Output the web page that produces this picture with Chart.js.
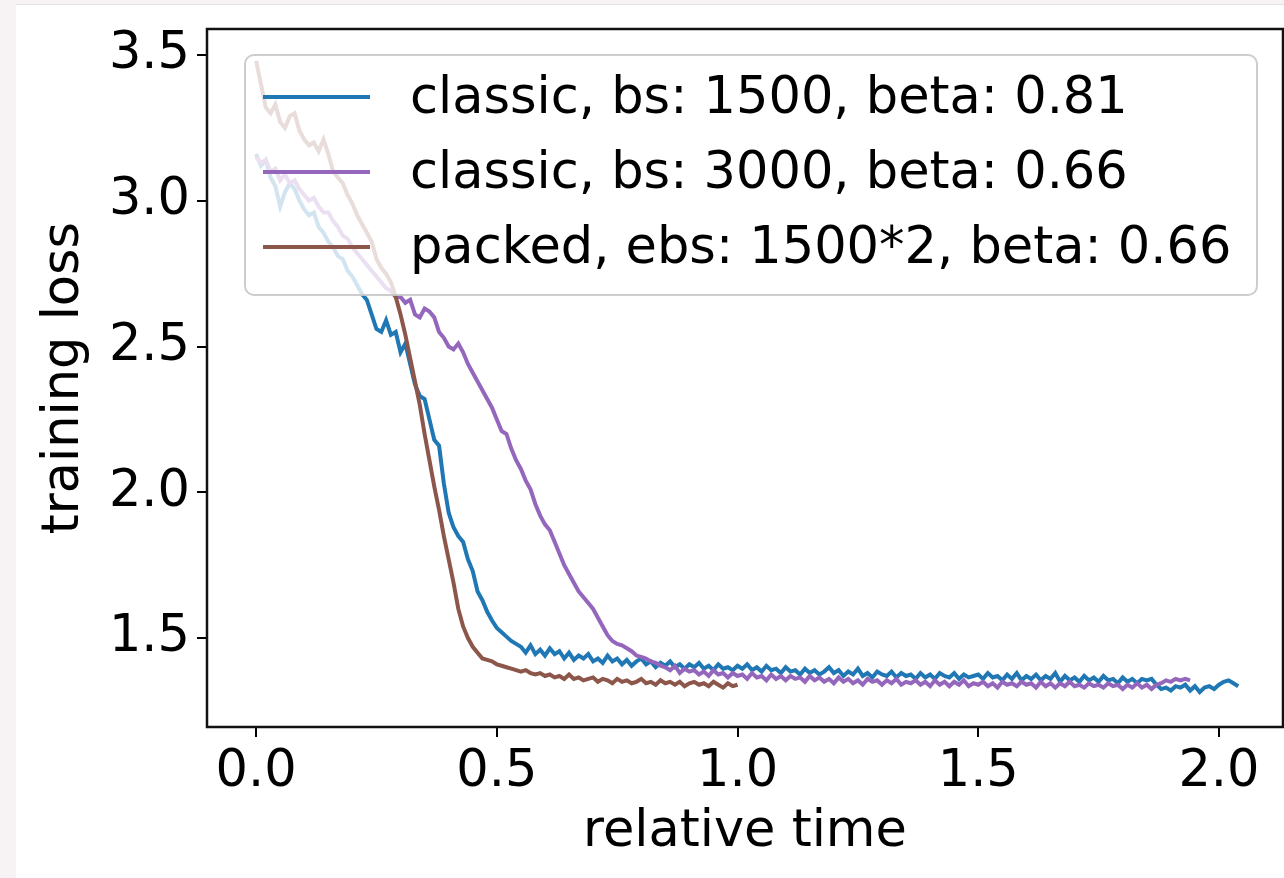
<!DOCTYPE html>
<html lang="en">
<head>
<meta charset="UTF-8" />
<title>Training loss vs relative time</title>
<script src="https://cdn.jsdelivr.net/npm/chart.js"></script>
<style>
  html, body { margin: 0; padding: 0; }
  body { background: #f7f3f4; width: 1284px; height: 878px; overflow: hidden; position: relative; }
  #wrap { position: absolute; left: 16px; top: 4px; width: 1268px; height: 873px; background: #fff; border-top: 1px solid #e4e2e2; }
  canvas { display: block; }
</style>
</head>
<body>
<div id="wrap"><canvas id="lossChart"></canvas></div>
<script>
// every run is sampled every 0.01 of relative time, starting at 0
const timeStep = 0.01;

const seriesLabels = [
  'classic, bs: 1500, beta: 0.81',
  'classic, bs: 3000, beta: 0.66',
  'packed, ebs: 1500*2, beta: 0.66'
];
const seriesColors = ['#1f77b4', '#9467bd', '#8c564b'];

// classic, bs 1500 (0.00 .. 2.04)
const lossBs1500 = [
  3.16, 3.12, 3.14, 3.08, 3.05, 2.98, 3.03, 3.06, 3.04, 3.00,
  2.97, 2.95, 2.96, 2.91, 2.89, 2.86, 2.84, 2.81, 2.80, 2.76,
  2.74, 2.71, 2.68, 2.66, 2.61, 2.56, 2.55, 2.59, 2.54, 2.55,
  2.48, 2.51, 2.44, 2.37, 2.33, 2.32, 2.25, 2.18, 2.16, 2.03,
  1.93, 1.88, 1.85, 1.83, 1.77, 1.73, 1.66, 1.63, 1.59, 1.56,
  1.535, 1.52, 1.505, 1.49, 1.48, 1.47, 1.45, 1.475, 1.445, 1.46,
  1.44, 1.465, 1.445, 1.455, 1.43, 1.45, 1.425, 1.44, 1.43, 1.445,
  1.42, 1.43, 1.415, 1.44, 1.42, 1.43, 1.41, 1.425, 1.405, 1.42,
  1.43, 1.41, 1.42, 1.40, 1.415, 1.405, 1.42, 1.40, 1.41, 1.395,
  1.41, 1.40, 1.415, 1.395, 1.405, 1.39, 1.41, 1.395, 1.40, 1.39,
  1.405, 1.395, 1.41, 1.39, 1.40, 1.385, 1.405, 1.39, 1.395, 1.38,
  1.40, 1.385, 1.39, 1.375, 1.395, 1.38, 1.39, 1.375, 1.385, 1.40,
  1.38, 1.39, 1.37, 1.385, 1.375, 1.395, 1.37, 1.38, 1.365, 1.385,
  1.375, 1.37, 1.385, 1.365, 1.38, 1.37, 1.375, 1.36, 1.38, 1.365,
  1.375, 1.36, 1.38, 1.37, 1.365, 1.38, 1.36, 1.375, 1.365, 1.37,
  1.375, 1.36, 1.38, 1.365, 1.37, 1.355, 1.375, 1.36, 1.38, 1.355,
  1.37, 1.36, 1.375, 1.355, 1.37, 1.36, 1.38, 1.35, 1.37, 1.355,
  1.365, 1.35, 1.37, 1.355, 1.365, 1.35, 1.37, 1.355, 1.36, 1.345,
  1.365, 1.35, 1.36, 1.345, 1.36, 1.355, 1.36, 1.34, 1.325, 1.33,
  1.32, 1.335, 1.33, 1.34, 1.32, 1.335, 1.315, 1.33, 1.335, 1.325,
  1.34, 1.35, 1.355, 1.345, 1.335
];

// classic, bs 3000 (0.00 .. 1.94)
const lossBs3000 = [
  3.15, 3.13, 3.14, 3.10, 3.11, 3.07, 3.09, 3.06, 3.07, 3.04,
  3.02, 3.00, 3.01, 2.98, 2.96, 2.96, 2.93, 2.91, 2.88, 2.87,
  2.84, 2.82, 2.80, 2.78, 2.76, 2.74, 2.72, 2.70, 2.69, 2.67,
  2.67, 2.65, 2.66, 2.61, 2.60, 2.63, 2.62, 2.60, 2.55, 2.53,
  2.50, 2.49, 2.51, 2.48, 2.44, 2.41, 2.38, 2.35, 2.32, 2.29,
  2.25, 2.21, 2.20, 2.15, 2.11, 2.08, 2.04, 2.01, 1.96, 1.92,
  1.89, 1.87, 1.83, 1.79, 1.75, 1.72, 1.69, 1.66, 1.64, 1.62,
  1.60, 1.57, 1.54, 1.51, 1.49, 1.48, 1.475, 1.465, 1.455, 1.44,
  1.435, 1.43, 1.42, 1.415, 1.405, 1.40, 1.39, 1.405, 1.38, 1.395,
  1.385, 1.39, 1.375, 1.385, 1.37, 1.39, 1.375, 1.38, 1.365, 1.38,
  1.37, 1.375, 1.36, 1.38, 1.365, 1.37, 1.355, 1.375, 1.36, 1.37,
  1.355, 1.37, 1.36, 1.365, 1.35, 1.37, 1.355, 1.365, 1.35, 1.36,
  1.345, 1.365, 1.35, 1.36, 1.345, 1.355, 1.34, 1.36, 1.35, 1.355,
  1.34, 1.355, 1.345, 1.36, 1.34, 1.35, 1.345, 1.355, 1.34, 1.35,
  1.335, 1.355, 1.34, 1.35, 1.335, 1.35, 1.34, 1.355, 1.335, 1.345,
  1.34, 1.35, 1.335, 1.345, 1.33, 1.35, 1.34, 1.345, 1.335, 1.35,
  1.34, 1.345, 1.33, 1.35, 1.335, 1.345, 1.33, 1.345, 1.335, 1.35,
  1.335, 1.34, 1.33, 1.345, 1.335, 1.34, 1.33, 1.345, 1.335, 1.34,
  1.325, 1.34, 1.33, 1.345, 1.33, 1.34, 1.325, 1.34, 1.345, 1.355,
  1.35, 1.36, 1.355, 1.36, 1.355
];

// packed, ebs 1500*2 (0.00 .. 1.00)
const lossPacked = [
  3.48, 3.40, 3.32, 3.30, 3.33, 3.27, 3.25, 3.29, 3.30, 3.24,
  3.21, 3.19, 3.20, 3.17, 3.21, 3.16, 3.10, 3.08, 3.06, 3.02,
  2.99, 2.95, 2.92, 2.89, 2.86, 2.80, 2.77, 2.75, 2.72, 2.67,
  2.61, 2.54, 2.46, 2.38, 2.30, 2.20, 2.11, 2.02, 1.94, 1.85,
  1.77, 1.69, 1.60, 1.54, 1.50, 1.47, 1.45, 1.43, 1.425, 1.42,
  1.41, 1.405, 1.40, 1.395, 1.39, 1.385, 1.39, 1.38, 1.375, 1.38,
  1.37, 1.375, 1.365, 1.37, 1.36, 1.375, 1.36, 1.365, 1.355, 1.36,
  1.365, 1.35, 1.36, 1.355, 1.345, 1.36, 1.35, 1.355, 1.345, 1.35,
  1.36, 1.345, 1.35, 1.34, 1.355, 1.345, 1.35, 1.34, 1.35, 1.335,
  1.345, 1.35, 1.34, 1.345, 1.335, 1.35, 1.34, 1.33, 1.345, 1.335,
  1.34
];

const xTicks = [0, 0.5, 1.0, 1.5, 2.0];
const yTicks = [1.5, 2.0, 2.5, 3.0, 3.5];

function toPoints(values) {
  return values.map((v, i) => ({ x: +(i * timeStep).toFixed(2), y: v }));
}

const FONT = 'DejaVu Sans';
Chart.defaults.font.family = FONT;
Chart.defaults.color = '#000';

// matplotlib-like frame around the plot area
const frame = {
  id: 'frame',
  afterDatasetsDraw(chart) {
    const a = chart.chartArea;
    const ctx = chart.ctx;
    ctx.save();
    ctx.strokeStyle = '#111';
    ctx.lineWidth = 2.5;
    ctx.strokeRect(a.left, a.top, a.right - a.left, a.bottom - a.top);
    ctx.restore();
  }
};

// legend box drawn inside the plot, semi transparent like matplotlib
const boxLegend = {
  id: 'boxLegend',
  afterDraw(chart) {
    const a = chart.chartArea;
    const ctx = chart.ctx;
    const x = a.left + 38, y = a.top + 26, w = 1012, h = 240;
    ctx.save();
    ctx.beginPath();
    ctx.roundRect(x, y, w, h, 9);
    ctx.fillStyle = 'rgba(255,255,255,0.8)';
    ctx.fill();
    ctx.strokeStyle = 'rgba(200,200,200,0.9)';
    ctx.lineWidth = 2;
    ctx.stroke();
    ctx.font = '51px "' + FONT + '"';
    ctx.textBaseline = 'middle';
    chart.data.datasets.forEach((ds, i) => {
      const ly = y + 42 + i * 75;
      ctx.strokeStyle = ds.borderColor;
      ctx.lineWidth = 4;
      ctx.beginPath();
      ctx.moveTo(x + 18, ly);
      ctx.lineTo(x + 125, ly);
      ctx.stroke();
      ctx.fillStyle = '#000';
      ctx.fillText(ds.label, x + 165, ly + 3);
    });
    ctx.restore();
  }
};

const series = [lossBs1500, lossBs3000, lossPacked];

new Chart(document.getElementById('lossChart'), {
  type: 'line',
  data: {
    datasets: series.map((vals, i) => ({
      label: seriesLabels[i],
      data: toPoints(vals),
      borderColor: seriesColors[i],
      backgroundColor: seriesColors[i],
      borderWidth: 4,
      pointRadius: 0,
      tension: 0,
      fill: false,
      order: 3 - i
    }))
  },
  options: {
    responsive: true,
    maintainAspectRatio: false,
    animation: false,
    events: [],
    layout: { padding: { top: 24, right: 1, left: 0, bottom: 0 } },
    plugins: {
      legend: { display: false },
      tooltip: { enabled: false }
    },
    scales: {
      x: {
        type: 'linear',
        min: -0.102,
        max: 2.133,
        afterBuildTicks: (s) => { s.ticks = xTicks.map(v => ({ value: v })); },
        afterFit: (s) => { s.height = 151; s.paddingLeft = 0; s.paddingRight = 0; },
        border: { display: false },
        grid: { drawOnChartArea: false, drawTicks: true, tickLength: 10, color: '#000', lineWidth: 2 },
        ticks: {
          padding: 5,
          maxRotation: 0,
          font: { size: 51 },
          color: '#000',
          callback: (v) => Number(v).toFixed(1)
        },
        title: {
          display: true,
          text: 'relative time',
          font: { size: 51 },
          color: '#000',
          padding: { top: 0, bottom: 15 }
        }
      },
      y: {
        type: 'linear',
        min: 1.195,
        max: 3.589,
        afterBuildTicks: (s) => { s.ticks = yTicks.map(v => ({ value: v })); },
        afterFit: (s) => { s.width = 191; s.paddingTop = 0; s.paddingBottom = 0; },
        border: { display: false },
        grid: { drawOnChartArea: false, drawTicks: true, tickLength: 10, color: '#000', lineWidth: 2 },
        ticks: {
          padding: 7,
          font: { size: 51 },
          color: '#000',
          callback: (v) => Number(v).toFixed(1)
        },
        title: {
          display: true,
          text: 'training loss',
          font: { size: 51 },
          color: '#000',
          padding: { top: 18, bottom: 0 }
        }
      }
    }
  },
  plugins: [frame, boxLegend]
});
</script>
</body>
</html>
